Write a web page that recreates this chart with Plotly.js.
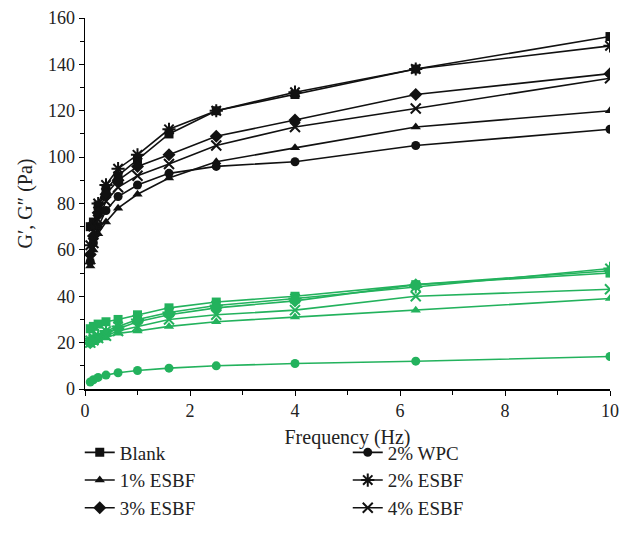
<!DOCTYPE html>
<html>
<head>
<meta charset="utf-8">
<script src="https://cdn.plot.ly/plotly-3.0.1.min.js"></script>
<style>html,body{margin:0;padding:0;background:#fff;}#chart{width:625px;height:547px;}</style>
</head>
<body>
<div id="chart"></div>
<script>
const freq = [0.1, 0.16, 0.25, 0.4, 0.63, 1, 1.6, 2.5, 4, 6.3, 10];
const seriesNames = ["Blank", "2% WPC", "1% ESBF", "2% ESBF", "3% ESBF", "4% ESBF"];
// G' (storage modulus, black)
const gBlank = [70, 72, 79, 86, 92, 99, 110, 120, 127, 138, 152];
const gWPC   = [55, 63, 70, 77, 83, 88, 93, 96, 98, 105, 112];
const gE1    = [53, 60, 67, 72, 78, 84, 91, 98, 104, 113, 120];
const gE2    = [62, 70, 80, 88, 95, 101, 112, 120, 128, 138, 148];
const gE3    = [58, 66, 76, 84, 90, 96, 101, 109, 116, 127, 136];
const gE4    = [56, 63, 73, 81, 87, 92, 97, 105, 113, 121, 134];
// G'' (loss modulus, green)
const lBlank = [26, 27, 28, 29, 30, 32, 35, 37.5, 40, 45, 50];
const lWPC   = [3, 4, 5, 6, 7, 8, 9, 10, 11, 12, 14];
const lE1    = [19, 20, 21, 22, 24, 25, 27, 29, 31, 34, 39];
const lE2    = [21, 22, 23, 25, 27, 30, 33, 36, 39, 44, 52];
const lE3    = [20, 21, 22, 24, 26, 29, 32, 35, 38, 45, 51];
const lE4    = [20, 21, 22, 23, 25, 27, 30, 32, 34, 40, 43];

const symbols = ["square", "circle", "triangle-up", "asterisk-open", "diamond", "x-thin-open"];
const sizes = [9, 9, 9, 11, 10, 10];
const gData = [gBlank, gWPC, gE1, gE2, gE3, gE4];
const lData = [lBlank, lWPC, lE1, lE2, lE3, lE4];
const BLACK = "#111111", GREEN = "#23b25d";

function mk(color, i) {
  const open = symbols[i].indexOf("open") >= 0;
  return {symbol: symbols[i], size: sizes[i], color: color,
          line: {color: color, width: open ? 2 : 0}};
}
const traces = [];
for (let i = 0; i < 6; i++) {
  traces.push({x: freq, y: lData[i], type: "scatter", mode: "lines+markers",
    name: seriesNames[i], showlegend: false,
    line: {color: GREEN, width: 1.6}, marker: mk(GREEN, i)});
}
for (let i = 0; i < 6; i++) {
  traces.push({x: freq, y: gData[i], type: "scatter", mode: "lines+markers",
    name: seriesNames[i], showlegend: true,
    line: {color: BLACK, width: 1.6}, marker: mk(BLACK, i)});
}

const FONT = "Liberation Serif, Times New Roman, serif";
const layout = {
  width: 625, height: 547,
  margin: {l: 85, r: 15, t: 18, b: 158},
  paper_bgcolor: "#fff", plot_bgcolor: "#fff",
  font: {family: FONT, size: 18, color: "#222"},
  showlegend: true,
  xaxis: {range: [0, 10], dtick: 2, tick0: 0, showgrid: false, zeroline: false,
    showline: true, linecolor: "#000", linewidth: 1.5, ticks: "outside", ticklen: 5,
    tickcolor: "#000", tickfont: {family: FONT, size: 18},
    minor: {dtick: 1, ticks: "outside", ticklen: 4, tickcolor: "#000"},
    title: {text: "Frequency (Hz)", font: {family: FONT, size: 20}, standoff: 10}},
  yaxis: {range: [0, 160], dtick: 20, tick0: 0, showgrid: false, zeroline: false,
    showline: true, linecolor: "#000", linewidth: 1.5, ticks: "outside", ticklen: 5,
    tickcolor: "#000", tickfont: {family: FONT, size: 18},
    minor: {dtick: 10, ticks: "outside", ticklen: 4, tickcolor: "#000"},
    title: {text: "G′, G″ (Pa)", font: {family: FONT, size: 20}, standoff: 10}},
  legend: {orientation: "h", x: -0.01, xanchor: "left", y: -0.12, yanchor: "top",
    entrywidth: 223, entrywidthmode: "pixels",
    font: {family: FONT, size: 19, color: "#222"},
    bgcolor: "rgba(0,0,0,0)"}
};
Plotly.newPlot("chart", traces, layout, {staticPlot: true, displayModeBar: false});
</script>
</body>
</html>
